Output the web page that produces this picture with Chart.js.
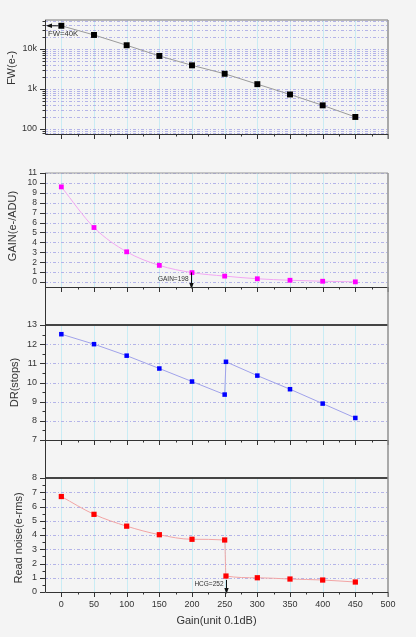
<!DOCTYPE html>
<html>
<head>
<meta charset="utf-8">
<script src="https://cdn.jsdelivr.net/npm/chart.js@4.4.0/dist/chart.umd.min.js"></script>
<style>
  body { margin: 0; background: #f4f4f4; }
  #wrap { position: relative; width: 416px; height: 637px; }
  canvas { position: absolute; left: 0; }
</style>
</head>
<body>
<div id="wrap">
  <canvas id="fwChart" width="416" height="153" style="top:0px"></canvas>
  <canvas id="gainChart" width="416" height="153" style="top:153px"></canvas>
  <canvas id="drChart" width="416" height="171" style="top:287px"></canvas>
  <canvas id="noiseChart" width="416" height="197" style="top:440px"></canvas>
</div>
<script>
// gain settings (unit 0.1dB)
const gainSteps = [0, 50, 100, 150, 200, 250, 300, 350, 400, 450];
const fwValues = [38000, 22400, 12400, 6700, 3900, 2400, 1320, 730, 390, 200];
const convGain = [9.6, 5.5, 3.05, 1.68, 0.95, 0.6, 0.33, 0.18, 0.08, 0.02];
// DR / read noise have an extra point where HCG switches on
const hcgSteps = [0, 50, 100, 150, 200, 250, 252, 300, 350, 400, 450];
const drValues = [12.52, 12.0, 11.4, 10.73, 10.05, 9.37, 11.08, 10.36, 9.65, 8.9, 8.15];
const noiseValues = [6.7, 5.45, 4.62, 4.02, 3.7, 3.65, 1.12, 1.0, 0.91, 0.84, 0.7];

const xTickValues = [0, 50, 100, 150, 200, 250, 300, 350, 400, 450, 500];
const fwTicks = [100, 1000, 10000];
const fwTickLabels = ['100', '1k', '10k'];
const gainTicks = [0, 1, 2, 3, 4, 5, 6, 7, 8, 9, 10, 11];
const drTicks = [7, 8, 9, 10, 11, 12, 13];
const noiseTicks = [0, 1, 2, 3, 4, 5, 6, 7, 8];

// annotation marks
const fwMark = { x: 0, y: 38000, text: 'FW=40K' };
const gainMark = { x: 198, y: 0.97, text: 'GAIN=198' };
const hcgMark = { x: 252, y: 0.85, text: 'HCG=252' };

const FONT = 'Arial, "Liberation Sans", sans-serif';
const TXT = '#333';

function logMinors(min, max) {
  const out = [];
  for (let dec = 10; dec <= 100000; dec *= 10) {
    for (let m = 1; m <= 9; m++) {
      const v = m * dec;
      if (v > min && v < max) out.push(v);
    }
  }
  return out;
}

function halfSteps(ticks) {
  const out = [];
  for (let i = 0; i < ticks.length - 1; i++) out.push((ticks[i] + ticks[i + 1]) / 2);
  return out;
}

function arrowHead(ctx, x, y, dir) {
  ctx.beginPath();
  if (dir === 'down') {
    ctx.moveTo(x, y); ctx.lineTo(x - 2.2, y - 6); ctx.lineTo(x + 2.2, y - 6);
  } else {
    ctx.moveTo(x, y); ctx.lineTo(x + 6, y - 2.2); ctx.lineTo(x + 6, y + 2.2);
  }
  ctx.closePath();
  ctx.fill();
}

const framePlugin = {
  id: 'frame',
  beforeDatasetsDraw(chart, args, opts) {
    const { ctx, chartArea: a, scales: { x, y } } = chart;
    ctx.save();
    ctx.beginPath();
    ctx.rect(a.left, a.top, a.right - a.left, a.bottom - a.top);
    ctx.clip();
    ctx.lineWidth = 1;
    ctx.strokeStyle = '#c9ecf4';
    xTickValues.slice(0, -1).forEach(v => {
      const px = Math.round(x.getPixelForValue(v)) + 0.5;
      ctx.beginPath(); ctx.moveTo(px, a.top); ctx.lineTo(px, a.bottom); ctx.stroke();
    });
    ctx.strokeStyle = '#b4b4e8';
    ctx.setLineDash([3, 2, 1, 2]);
    opts.hLines.forEach(v => {
      const py = Math.round(y.getPixelForValue(v)) + 0.5;
      ctx.beginPath(); ctx.moveTo(a.left, py); ctx.lineTo(a.right, py); ctx.stroke();
    });
    ctx.restore();
  },
  afterDatasetsDraw(chart, args, opts) {
    const note = opts.note;
    if (!note) return;
    const { ctx, chartArea: a, scales: { x, y } } = chart;
    const px = x.getPixelForValue(note.x);
    const py = y.getPixelForValue(note.y);
    ctx.save();
    ctx.strokeStyle = '#111';
    ctx.fillStyle = '#111';
    ctx.lineWidth = 1;
    if (note.dir === 'left') {
      ctx.beginPath(); ctx.moveTo(px - 3, py); ctx.lineTo(a.left + 3, py); ctx.stroke();
      arrowHead(ctx, a.left + 1, py, 'left');
      ctx.fillStyle = '#333';
      ctx.font = '7.7px ' + FONT;
      ctx.textAlign = 'left';
      ctx.textBaseline = 'middle';
      ctx.fillText(note.text, a.left + 3, py + 8.5);
    } else {
      const lx = Math.round(px) + 0.5;
      ctx.beginPath(); ctx.moveTo(lx, py); ctx.lineTo(lx, a.bottom - 3); ctx.stroke();
      arrowHead(ctx, lx, a.bottom + 2, 'down');
      ctx.fillStyle = '#333';
      ctx.font = '6.5px ' + FONT;
      ctx.textAlign = 'right';
      ctx.textBaseline = 'middle';
      ctx.fillText(note.text, lx - 3, a.bottom - 8);
    }
    ctx.restore();
  },
  afterDraw(chart, args, opts) {
    const { ctx, chartArea: a, scales: { x, y } } = chart;
    ctx.save();
    ctx.lineWidth = 1;
    ctx.strokeStyle = '#333';
    // x ticks, minor every 25
    for (let v = 0; v <= 500; v += 25) {
      const px = Math.round(x.getPixelForValue(v)) + 0.5;
      const len = v % 50 === 0 ? 5 : 2.5;
      ctx.beginPath(); ctx.moveTo(px, a.bottom); ctx.lineTo(px, a.bottom + len); ctx.stroke();
    }
    // y ticks
    opts.yMajor.forEach(v => {
      const py = Math.round(y.getPixelForValue(v)) + 0.5;
      ctx.beginPath(); ctx.moveTo(a.left, py); ctx.lineTo(a.left - 5, py); ctx.stroke();
    });
    opts.yMinor.forEach(v => {
      const py = Math.round(y.getPixelForValue(v)) + 0.5;
      ctx.beginPath(); ctx.moveTo(a.left, py); ctx.lineTo(a.left - 2.5, py); ctx.stroke();
    });
    const top0 = opts.extendUp ? 0 : a.top;
    const L = Math.round(a.left) + 0.5, R = Math.round(a.right), B = Math.round(a.bottom) + 0.5;
    // top border
    ctx.strokeStyle = opts.topColor;
    ctx.lineWidth = opts.topWidth;
    ctx.beginPath(); ctx.moveTo(a.left, a.top); ctx.lineTo(a.right, a.top); ctx.stroke();
    // right border
    ctx.strokeStyle = '#909090';
    ctx.lineWidth = 1.5;
    ctx.beginPath(); ctx.moveTo(R, top0); ctx.lineTo(R, a.bottom + 5); ctx.stroke();
    // axes
    ctx.strokeStyle = '#333';
    ctx.lineWidth = 1;
    ctx.beginPath(); ctx.moveTo(L, top0); ctx.lineTo(L, B); ctx.lineTo(a.right, B); ctx.stroke();
    // y title, placed like the original (not always centred on the axis)
    const t = opts.yTitle;
    ctx.translate(t.x, (a.top + a.bottom) / 2 + t.shift);
    ctx.rotate(-Math.PI / 2);
    ctx.fillStyle = TXT;
    ctx.font = '11px ' + FONT;
    ctx.textAlign = 'center';
    ctx.textBaseline = 'middle';
    ctx.fillText(t.text, 0, 0);
    ctx.restore();
  }
};

function xAxis(showLabels, h) {
  return {
    type: 'linear',
    min: -25,
    max: 500,
    afterBuildTicks: s => { s.ticks = xTickValues.map(v => ({ value: v })); },
    afterFit: s => { s.height = h; },
    grid: { display: false, drawTicks: false, tickLength: 0 },
    border: { display: false },
    ticks: { display: showLabels, autoSkip: false, maxRotation: 0, padding: 7, color: TXT, font: { size: 9, family: FONT } },
    title: {
      display: showLabels,
      text: 'Gain(unit 0.1dB)',
      color: TXT,
      font: { size: 11, family: FONT },
      padding: { top: 9, bottom: 9 }
    }
  };
}

function yAxis(cfg) {
  return {
    type: cfg.type || 'linear',
    min: cfg.min,
    max: cfg.max,
    afterBuildTicks: s => { s.ticks = cfg.ticks.map(v => ({ value: v })); },
    afterFit: s => { s.width = 45; },
    grid: { display: false, drawTicks: false, tickLength: 0 },
    border: { display: false },
    ticks: {
      autoSkip: false,
      padding: 8,
      color: TXT,
      font: { size: cfg.tickSize || 9, family: FONT },
      callback: cfg.callback || (v => v)
    },
    title: { display: false }
  };
}

function makeChart(id, cfg) {
  return new Chart(document.getElementById(id), {
    type: 'line',
    data: {
      datasets: [{
        data: cfg.xs.map((g, i) => ({ x: g, y: cfg.ys[i] })),
        borderColor: cfg.lineColor,
        borderWidth: 1,
        backgroundColor: cfg.markColor,
        pointBackgroundColor: cfg.markColor,
        pointBorderColor: cfg.markColor,
        pointBorderWidth: 0,
        pointStyle: 'rect',
        pointRadius: cfg.markSize,
        tension: cfg.smooth ? 0.4 : 0,
        cubicInterpolationMode: cfg.smooth ? 'monotone' : 'default',
        fill: false
      }]
    },
    options: {
      responsive: false,
      animation: false,
      layout: { padding: { top: cfg.padTop, left: 0, right: 28, bottom: 0 } },
      scales: {
        x: xAxis(cfg.xLabels, cfg.xHeight),
        y: yAxis(cfg.y)
      },
      plugins: {
        legend: { display: false },
        tooltip: { enabled: false },
        frame: {
          hLines: cfg.hLines,
          yMajor: cfg.y.ticks,
          yMinor: cfg.yMinor,
          extendUp: cfg.extendUp,
          topColor: cfg.topColor,
          topWidth: cfg.topWidth,
          note: cfg.note,
          yTitle: { text: cfg.y.title, x: cfg.y.titleX, shift: cfg.y.titleShift }
        }
      }
    },
    plugins: [framePlugin]
  });
}

const fwMin = 75, fwMax = 53000;
makeChart('fwChart', {
  xs: gainSteps, ys: fwValues,
  lineColor: '#9a9a9a', markColor: '#000000', markSize: 4.2, smooth: false,
  padTop: 20, xHeight: 19, xLabels: false,
  y: {
    type: 'logarithmic', min: fwMin, max: fwMax, ticks: fwTicks,
    title: 'FW(e-)', titleX: 12, titleShift: -9,
    callback: v => fwTickLabels[fwTicks.indexOf(v)] || ''
  },
  hLines: fwTicks.concat(logMinors(fwMin, fwMax)),
  yMinor: logMinors(fwMin, fwMax).filter(v => !fwTicks.includes(v)),
  extendUp: false, topColor: '#777777', topWidth: 1,
  note: Object.assign({ dir: 'left' }, fwMark)
});

makeChart('gainChart', {
  xs: gainSteps, ys: convGain,
  lineColor: '#f2a6f2', markColor: '#ff00ff', markSize: 3.4, smooth: true,
  padTop: 20, xHeight: 19, xLabels: false,
  y: { min: -0.5, max: 11, ticks: gainTicks, title: 'GAIN(e-/ADU)', titleX: 12.7, titleShift: -4, tickSize: 8.5 },
  hLines: gainTicks,
  yMinor: [],
  extendUp: false, topColor: '#999999', topWidth: 1,
  note: Object.assign({ dir: 'down' }, gainMark)
});

makeChart('drChart', {
  xs: hcgSteps, ys: drValues,
  lineColor: '#a0a2ea', markColor: '#0000ff', markSize: 3.2, smooth: false,
  padTop: 38, xHeight: 18, xLabels: false,
  y: { min: 7, max: 13, ticks: drTicks, title: 'DR(stops)', titleX: 14.7, titleShift: 0 },
  hLines: drTicks,
  yMinor: halfSteps(drTicks),
  extendUp: true, topColor: '#444444', topWidth: 2,
  note: null
});

makeChart('noiseChart', {
  xs: hcgSteps, ys: noiseValues,
  lineColor: '#f2a4a4', markColor: '#ff0000', markSize: 3.7, smooth: true,
  padTop: 38, xHeight: 45, xLabels: true,
  y: { min: 0, max: 8, ticks: noiseTicks, title: 'Read noise(e-rms)', titleX: 18.7, titleShift: 3 },
  hLines: noiseTicks,
  yMinor: halfSteps(noiseTicks),
  extendUp: true, topColor: '#444444', topWidth: 2,
  note: Object.assign({ dir: 'down' }, hcgMark)
});
</script>
</body>
</html>
